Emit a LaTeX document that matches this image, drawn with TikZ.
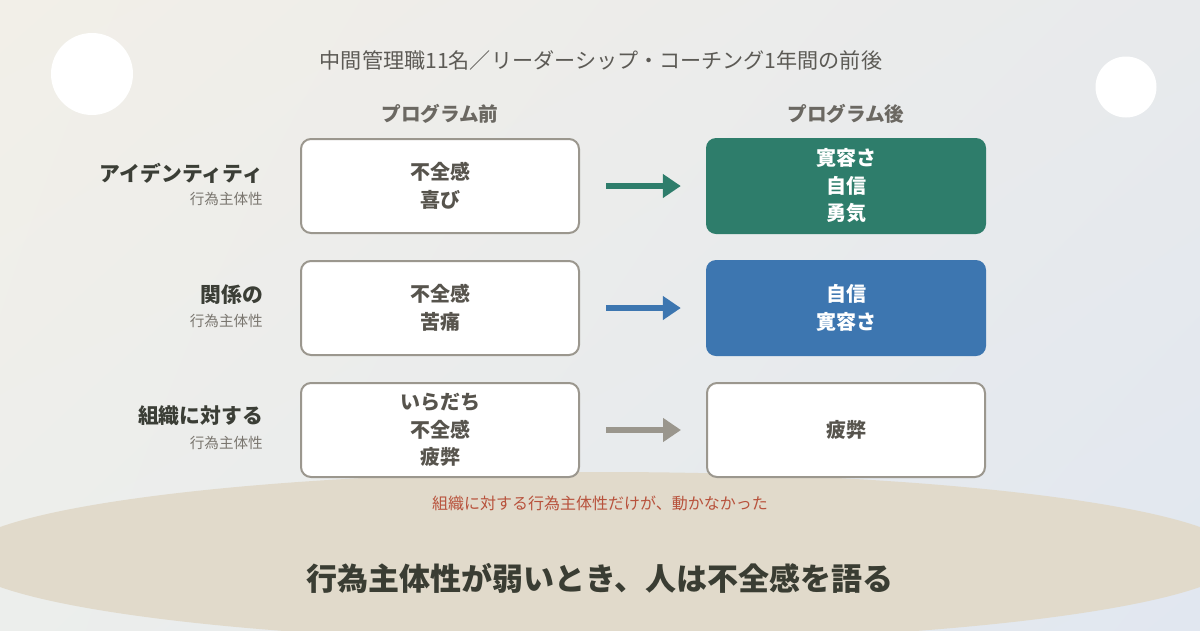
\documentclass[tikz,border=0pt]{standalone}
\usepackage{fontspec}
\setmainfont{Noto Sans CJK JP}
\usetikzlibrary{arrows.meta,shadings}
\definecolor{bgA}{HTML}{F2EFE8}
\definecolor{bgB}{HTML}{E8EAEC}
\definecolor{bgC}{HTML}{ECEEEC}
\definecolor{bgD}{HTML}{E1E7F0}
\definecolor{sand}{HTML}{E1DACB}
\definecolor{titlec}{HTML}{5C5A55}
\definecolor{headc}{HTML}{6B6862}
\definecolor{lblc}{HTML}{3B3E36}
\definecolor{subc}{HTML}{7A766F}
\definecolor{boxtxt}{HTML}{57544D}
\definecolor{boxline}{HTML}{9B978E}
\definecolor{greenc}{HTML}{2E7D6B}
\definecolor{bluec}{HTML}{3D76B0}
\definecolor{grayarr}{HTML}{9A968D}
\definecolor{redc}{HTML}{B8523C}
\definecolor{bottomc}{HTML}{3A3D33}
\tikzset{
  boxbase/.style={rounded corners=10pt, minimum width=278pt, minimum height=94pt, align=center, inner sep=0pt,
    font=\fontsize{20}{27.5}\selectfont\bfseries},
  plainbox/.style={boxbase, draw=boxline, line width=2pt, fill=white, text=boxtxt},
  greenbox/.style={boxbase, fill=greenc, text=white, minimum width=280pt, minimum height=96pt},
  bluebox/.style={boxbase, fill=bluec, text=white, minimum width=280pt, minimum height=96pt},
  lbl/.style={anchor=east, inner sep=0pt, text=lblc, font=\fontsize{20.8}{24}\selectfont\bfseries},
  sublbl/.style={anchor=east, inner sep=0pt, text=subc, font=\fontsize{14.6}{18}\selectfont},
  head/.style={inner sep=0pt, text=headc, font=\fontsize{19.6}{22}\selectfont\bfseries},
  flow/.style={line width=6pt, -{Triangle[length=18pt,width=23pt]}, shorten <=26pt, shorten >=25pt}
}
\begin{document}
\begin{tikzpicture}[x=1pt,y=-1pt]
\useasboundingbox (0,0) rectangle (1200,630);
\shade[upper left=bgA, upper right=bgB, lower left=bgC, lower right=bgD] (0,0) rectangle (1200,630);
\begin{scope}
\clip (0,0) rectangle (1200,630);
\fill[sand] (600,557) ellipse [x radius=641, y radius=85];
\end{scope}
\fill[white] (92,74) circle[radius=41];
\fill[white] (1126,87) circle[radius=30.5];

\node[inner sep=0pt, text=titlec, font=\fontsize{21.1}{24}\selectfont] (title) at (601,60) {中間管理職11名／リーダーシップ・コーチング1年間の前後};
\node[head] (hb) at (440,114) {プログラム前};
\node[head] (ha) at (846,114) {プログラム後};

\node[lbl] (l1) at (263,173) {アイデンティティ};
\node[sublbl] (s1) at (263,199) {行為主体性};
\node[lbl] (l2) at (263,295) {関係の};
\node[sublbl] (s2) at (263,321) {行為主体性};
\node[lbl] (l3) at (263,416) {組織に対する};
\node[sublbl] (s3) at (263,443) {行為主体性};

\node[plainbox] (a1) at (440,186) {不全感\\喜び};
\node[greenbox] (b1) at (846,186) {寛容さ\\自信\\勇気};
\node[plainbox] (a2) at (440,308) {不全感\\苦痛};
\node[bluebox] (b2) at (846,308) {自信\\寛容さ};
\node[plainbox] (a3) at (440,430) {いらだち\\不全感\\疲弊};
\node[plainbox] (b3) at (846,430) {疲弊};

\draw[flow, draw=greenc, fill=greenc] (a1.east) -- (b1.west);
\draw[flow, draw=bluec, fill=bluec] (a2.east) -- (b2.west);
\draw[flow, draw=grayarr, fill=grayarr] (a3.east) -- (b3.west);

\node[inner sep=0pt, text=redc, font=\fontsize{16}{18}\selectfont] (note) at (600,503) {組織に対する行為主体性だけが、動かなかった};
\node[inner sep=0pt, text=bottomc, font=\fontsize{31}{36}\selectfont\bfseries] (msg) at (600,578) {行為主体性が弱いとき、人は不全感を語る};
\end{tikzpicture}
\end{document}
